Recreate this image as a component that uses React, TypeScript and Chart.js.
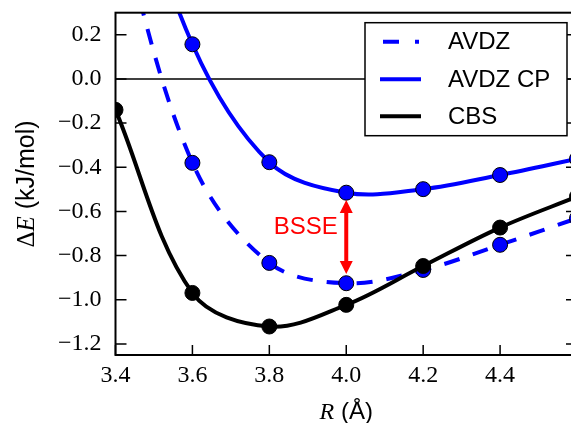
import React, { useEffect, useRef } from 'react';
import { Chart, registerables } from 'chart.js';

Chart.register(...registerables);

// ---- data ----
const R_VALUES = [3.4, 3.6, 3.8, 4.0, 4.2, 4.4, 4.6];
const AVDZ = [0.75, -0.38, -0.833, -0.925, -0.865, -0.751, -0.631];
const AVDZ_CP = [1.2, 0.157, -0.377, -0.515, -0.499, -0.435, -0.362];
const CBS = [-0.14, -0.969, -1.121, -1.023, -0.847, -0.673, -0.533];
const SERIES_LABELS = ['AVDZ', 'AVDZ CP', 'CBS'];
const X_TICKS = [3.4, 3.6, 3.8, 4.0, 4.2, 4.4];
const Y_TICKS = [-1.2, -1.0, -0.8, -0.6, -0.4, -0.2, 0.0, 0.2];
const X_RANGE = [3.4, 4.6];
const Y_RANGE = [-1.25, 0.3];
const BSSE_R = 4.0;
const BSSE_ARROW = [-0.548, -0.883];
const BSSE_LABEL = 'BSSE';
const BSSE_LABEL_POS = [3.978, -0.67];

const SERIF = 'Liberation Serif';
const SANS = 'Liberation Sans';

const fmt = (v: number) => (v < -1e-9 ? '\u2212' : '') + Math.abs(v).toFixed(1);

const makeDs = (label: string, vals: number[], color: string, dash: number[], pointColor: string, order: number) => ({
  label,
  data: R_VALUES.map((r, i) => ({ x: r, y: vals[i] })),
  borderColor: color,
  borderWidth: 4,
  borderDash: dash,
  backgroundColor: pointColor,
  pointBackgroundColor: pointColor,
  pointBorderColor: '#000',
  pointBorderWidth: 1,
  pointRadius: 7.5,
  pointHoverRadius: 7.5,
  tension: 0.35,
  fill: false,
  clip: 0,
  order,
});

const decor = {
  id: 'decor',
  beforeDatasetsDraw(chart: any) {
    const { ctx, chartArea: a, scales } = chart;
    const y0 = scales.y.getPixelForValue(0);
    ctx.save();
    ctx.strokeStyle = '#000';
    ctx.lineWidth = 1.5;
    ctx.beginPath();
    ctx.moveTo(a.left, y0);
    ctx.lineTo(a.right, y0);
    ctx.stroke();
    ctx.restore();
  },
  afterDatasetsDraw(chart: any) {
    const { ctx, chartArea: a, scales } = chart;
    const x = scales.x;
    const y = scales.y;
    ctx.save();

    // BSSE arrow
    const xa = x.getPixelForValue(BSSE_R);
    const yt = y.getPixelForValue(BSSE_ARROW[0]);
    const yb = y.getPixelForValue(BSSE_ARROW[1]);
    ctx.strokeStyle = '#ff0000';
    ctx.fillStyle = '#ff0000';
    ctx.lineWidth = 4;
    ctx.beginPath();
    ctx.moveTo(xa, yt + 10);
    ctx.lineTo(xa, yb - 10);
    ctx.stroke();
    const hl = 13, hw = 6.5;
    ctx.beginPath();
    ctx.moveTo(xa, yt);
    ctx.lineTo(xa + hw, yt + hl);
    ctx.lineTo(xa - hw, yt + hl);
    ctx.closePath();
    ctx.fill();
    ctx.beginPath();
    ctx.moveTo(xa, yb);
    ctx.lineTo(xa + hw, yb - hl);
    ctx.lineTo(xa - hw, yb - hl);
    ctx.closePath();
    ctx.fill();
    ctx.font = `24px "${SANS}"`;
    ctx.textAlign = 'right';
    ctx.textBaseline = 'middle';
    ctx.fillText(BSSE_LABEL, x.getPixelForValue(BSSE_LABEL_POS[0]), y.getPixelForValue(BSSE_LABEL_POS[1]));

    // spines
    ctx.strokeStyle = '#000';
    ctx.lineWidth = 2;
    ctx.strokeRect(a.left, a.top, a.right - a.left, a.bottom - a.top);

    // inward ticks
    ctx.lineWidth = 1.5;
    ctx.beginPath();
    Y_TICKS.forEach((v) => {
      const py = y.getPixelForValue(v);
      ctx.moveTo(a.left, py);
      ctx.lineTo(a.left + 11, py);
      ctx.moveTo(a.right, py);
      ctx.lineTo(a.right - 11, py);
    });
    X_TICKS.forEach((v) => {
      const px = x.getPixelForValue(v);
      ctx.moveTo(px, a.bottom);
      ctx.lineTo(px, a.bottom - 10);
    });
    ctx.stroke();

    // legend
    const bw = 202, bh = 113;
    const bx = a.right - 10 - bw;
    const by = a.top + 10;
    ctx.fillStyle = '#fff';
    ctx.fillRect(bx, by, bw, bh);
    ctx.strokeStyle = '#000';
    ctx.lineWidth = 1.5;
    ctx.strokeRect(bx, by, bw, bh);
    const rowY = [by + 19, by + 56.5, by + 93.5];
    chart.data.datasets.forEach((ds: any, i: number) => {
      const ly = rowY[i];
      const dashed = ds.borderDash && ds.borderDash.length;
      ctx.strokeStyle = ds.borderColor;
      ctx.lineWidth = 4;
      ctx.setLineDash(dashed ? [16, 16] : []);
      ctx.beginPath();
      ctx.moveTo(bx + (dashed ? 18 : 15), ly);
      ctx.lineTo(bx + (dashed ? 54 : 56), ly);
      ctx.stroke();
      ctx.setLineDash([]);
      ctx.fillStyle = '#000';
      ctx.font = `24px "${SANS}"`;
      ctx.textAlign = 'left';
      ctx.textBaseline = 'middle';
      ctx.fillText(ds.label, bx + 83, ly + 1);
    });

    ctx.restore();
  },
  afterDraw(chart: any) {
    const { ctx, chartArea: a } = chart;
    ctx.save();
    ctx.fillStyle = '#000';
    ctx.textBaseline = 'alphabetic';
    ctx.textAlign = 'left';

    // x title: R (Å)
    const partsX: [string, string][] = [
      ['R', `italic 24px "${SERIF}"`],
      [' (\u00C5)', `24px "${SANS}"`],
    ];
    let wx = 0;
    partsX.forEach(([t, f]) => { ctx.font = f; wx += ctx.measureText(t).width; });
    let cx = (a.left + a.right) / 2 - wx / 2;
    partsX.forEach(([t, f]) => { ctx.font = f; ctx.fillText(t, cx, 419); cx += ctx.measureText(t).width; });

    // y title: ΔE (kJ/mol)
    const partsY: [string, string][] = [
      ['\u0394', `25px "${SERIF}"`],
      ['E', `italic 25px "${SERIF}"`],
      [' (kJ/mol)', `25px "${SANS}"`],
    ];
    let wy = 0;
    partsY.forEach(([t, f]) => { ctx.font = f; wy += ctx.measureText(t).width; });
    ctx.translate(34, 184);
    ctx.rotate(-Math.PI / 2);
    let cy = -wy / 2;
    partsY.forEach(([t, f]) => { ctx.font = f; ctx.fillText(t, cy, 0); cy += ctx.measureText(t).width; });
    ctx.restore();
  },
};

export default function App() {
  const ref = useRef<HTMLCanvasElement | null>(null);
  useEffect(() => {
    if (!ref.current) return;
    Chart.defaults.font.family = SERIF;
    const tickFont = { family: SERIF, size: 24, style: 'normal' as const, weight: 'normal' as const };
    const chart = new Chart(ref.current, {
      type: 'line',
      data: {
        datasets: [
          makeDs(SERIES_LABELS[0], AVDZ, '#0000ff', [16, 14], '#0000ff', 1),
          makeDs(SERIES_LABELS[1], AVDZ_CP, '#0000ff', [], '#0000ff', 2),
          makeDs(SERIES_LABELS[2], CBS, '#000000', [], '#000000', 0),
        ] as any,
      },
      options: {
        responsive: false,
        animation: false,
        devicePixelRatio: 1,
        events: [],
        font: { family: SERIF },
        layout: { padding: { top: 12.7, right: 13, left: 0, bottom: 0 } },
        elements: { line: { capBezierPoints: false } },
        plugins: { legend: { display: false }, tooltip: { enabled: false } },
        scales: {
          x: {
            type: 'linear',
            min: X_RANGE[0],
            max: X_RANGE[1],
            afterBuildTicks: (s: any) => { s.ticks = X_TICKS.map((v) => ({ value: v })); },
            afterFit: (s: any) => { s.height = 68; s.paddingLeft = 0; s.paddingRight = 0; },
            grid: { display: false, drawTicks: false },
            border: { display: false },
            ticks: {
              font: tickFont,
              color: '#000',
              padding: 6,
              maxRotation: 0,
              autoSkip: false,
              callback: (v: any) => fmt(Number(v)),
            },
          },
          y: {
            type: 'linear',
            min: Y_RANGE[0],
            max: Y_RANGE[1],
            afterBuildTicks: (s: any) => { s.ticks = Y_TICKS.map((v) => ({ value: v })); },
            afterFit: (s: any) => { s.width = 115.5; s.paddingTop = 0; s.paddingBottom = 0; },
            grid: { display: false, drawTicks: false },
            border: { display: false },
            ticks: {
              font: tickFont,
              color: '#000',
              padding: 14,
              autoSkip: false,
              callback: (v: any) => fmt(Number(v)),
            },
          },
        },
      } as any,
      plugins: [decor],
    });
    return () => chart.destroy();
  }, []);
  return (
    <div style={{ position: 'fixed', left: 0, top: 0, width: 571, height: 423, overflow: 'hidden', background: '#fff' }}>
      <canvas ref={ref} width={590} height={423} style={{ display: 'block', width: 590, height: 423 }} />
    </div>
  );
}
